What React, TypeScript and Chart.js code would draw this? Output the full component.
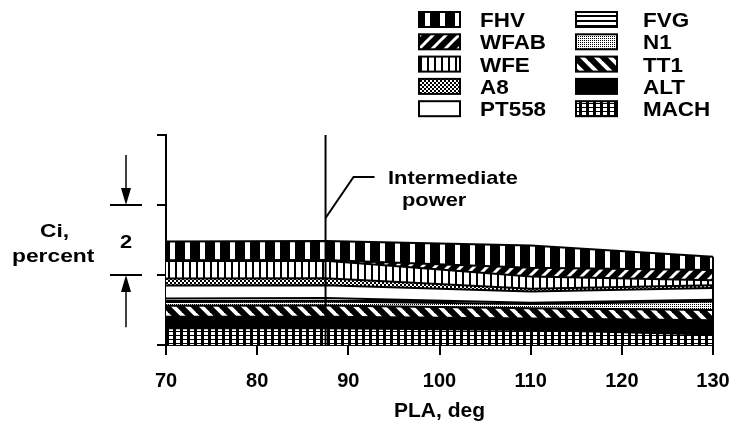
import React, { useEffect, useRef } from "react";
import { Chart, registerables } from "chart.js";

Chart.register(...registerables);

// ---------- data ----------
const PLA = [70, 87.5, 110, 130];
const MACH = [0.48, 0.48, 0.43, 0.3];
const ALT = [0.33, 0.33, 0.33, 0.41];
const TT1 = [0.31, 0.32, 0.29, 0.29];
const N1 = [0.11, 0.11, 0.12, 0.24];
const FVG = [0.1, 0.1, 0.04, 0.05];
const PT558 = [0.37, 0.37, 0.32, 0.34];
const A8 = [0.2, 0.2, 0.08, 0.08];
const WFE = [0.5, 0.5, 0.35, 0.14];
const WFAB = [0.02, 0.02, 0.25, 0.29];
const FHV = [0.54, 0.54, 0.63, 0.38];

const SERIES_NAMES = ["MACH", "ALT", "TT1", "N1", "FVG", "PT558", "A8", "WFE", "WFAB", "FHV"];
const SERIES_VALUES = [MACH, ALT, TT1, N1, FVG, PT558, A8, WFE, WFAB, FHV];
const LEGEND_LEFT = ["FHV", "WFAB", "WFE", "A8", "PT558"];
const LEGEND_RIGHT = ["FVG", "N1", "TT1", "ALT", "MACH"];

const X_MIN = 70;
const X_MAX = 130;
const X_STEP = 10;
const Y_MIN = 0;
const Y_MAX = 6;
const Y_STEP = 2;
const INTERMEDIATE_PLA = 87.5;
const SPAN_LABEL = "2";
const SPAN_LOW = 2;
const SPAN_HIGH = 4;

const FONT = '"Liberation Sans", Arial, Helvetica, sans-serif';

type Ctx = CanvasRenderingContext2D;

function makePattern(ctx: Ctx, w: number, h: number, draw: (g: Ctx) => void): CanvasPattern | string {
  const c = document.createElement("canvas");
  c.width = w;
  c.height = h;
  const g = c.getContext("2d") as Ctx;
  draw(g);
  return ctx.createPattern(c, "repeat") || "#000";
}

function diag(g: Ctx, p: number, lw: number, color: string, forward: boolean) {
  g.strokeStyle = color;
  g.lineWidth = lw;
  g.lineCap = "square";
  for (const c of [-p, 0, p]) {
    g.beginPath();
    if (forward) {
      g.moveTo(c - 2, p + 2);
      g.lineTo(c + p + 2, -2);
    } else {
      g.moveTo(c - 2, -2);
      g.lineTo(c + p + 2, p + 2);
    }
    g.stroke();
  }
}

function buildPatterns(ctx: Ctx): Record<string, CanvasPattern | string> {
  return {
    FHV: makePattern(ctx, 15, 4, (g) => {
      g.fillStyle = "#000";
      g.fillRect(0, 0, 15, 4);
      g.fillStyle = "#fff";
      g.fillRect(5, 0, 5, 4);
    }),
    WFAB: makePattern(ctx, 13, 13, (g) => {
      g.fillStyle = "#000";
      g.fillRect(0, 0, 13, 13);
      diag(g, 13, 3, "#fff", true);
    }),
    WFE: makePattern(ctx, 7, 4, (g) => {
      g.fillStyle = "#fff";
      g.fillRect(0, 0, 7, 4);
      g.fillStyle = "#000";
      g.fillRect(0, 0, 2, 4);
    }),
    A8: makePattern(ctx, 4, 4, (g) => {
      g.fillStyle = "#fff";
      g.fillRect(0, 0, 4, 4);
      g.fillStyle = "#000";
      g.fillRect(0, 0, 2, 2);
      g.fillRect(2, 2, 2, 2);
    }),
    PT558: "#ffffff",
    FVG: makePattern(ctx, 4, 5, (g) => {
      g.fillStyle = "#fff";
      g.fillRect(0, 0, 4, 5);
      g.fillStyle = "#000";
      g.fillRect(0, 0, 4, 2);
    }),
    N1: makePattern(ctx, 2, 2, (g) => {
      g.fillStyle = "#fff";
      g.fillRect(0, 0, 2, 2);
      g.fillStyle = "#000";
      g.fillRect(0, 0, 1, 1);
    }),
    TT1: makePattern(ctx, 14, 14, (g) => {
      g.fillStyle = "#fff";
      g.fillRect(0, 0, 14, 14);
      diag(g, 14, 6, "#000", false);
    }),
    ALT: "#000000",
    MACH: makePattern(ctx, 7, 4, (g) => {
      g.fillStyle = "#000";
      g.fillRect(0, 0, 7, 4);
      g.fillStyle = "#fff";
      g.fillRect(1, 0, 4, 3);
    }),
  };
}

function stretchText(ctx: Ctx, text: string, x: number, y: number, size: number, sx: number) {
  ctx.save();
  ctx.font = `bold ${size}px ${FONT}`;
  ctx.fillStyle = "#000";
  ctx.textAlign = "left";
  ctx.textBaseline = "alphabetic";
  ctx.translate(x, y);
  ctx.scale(sx, 1);
  ctx.fillText(text, 0, 0);
  ctx.restore();
}

function arrow(ctx: Ctx, x: number, from: number, to: number) {
  const dir = to > from ? 1 : -1;
  const head = 17;
  ctx.beginPath();
  ctx.moveTo(x, from);
  ctx.lineTo(x, to - dir * head);
  ctx.stroke();
  ctx.beginPath();
  ctx.moveTo(x, to);
  ctx.lineTo(x - 5, to - dir * head);
  ctx.lineTo(x + 5, to - dir * head);
  ctx.closePath();
  ctx.fill();
}

const annotationPlugin = {
  id: "annotations",
  afterDatasetsDraw(chart: any) {
    const { ctx, chartArea, scales } = chart;
    const xs = scales.x;
    const ys = scales.y;
    ctx.save();
    ctx.strokeStyle = "#000";
    ctx.lineWidth = 2;
    // right closing edge of the stack
    const last = PLA.length - 1;
    let total = 0;
    SERIES_VALUES.forEach((s) => (total += s[last]));
    const xr = xs.getPixelForValue(PLA[last]);
    ctx.beginPath();
    ctx.moveTo(xr, ys.getPixelForValue(0));
    ctx.lineTo(xr, ys.getPixelForValue(total));
    ctx.stroke();
    // intermediate power line
    const xi = xs.getPixelForValue(INTERMEDIATE_PLA);
    ctx.beginPath();
    ctx.moveTo(xi, chartArea.top);
    ctx.lineTo(xi, chartArea.bottom);
    ctx.stroke();
    // leader
    ctx.lineWidth = 2;
    ctx.beginPath();
    ctx.moveTo(xi, ys.getPixelForValue(3.63));
    ctx.lineTo(xi + 28, ys.getPixelForValue(4.8));
    ctx.lineTo(xi + 49, ys.getPixelForValue(4.8));
    ctx.stroke();
    ctx.restore();
  },
  afterDraw(chart: any) {
    const { ctx, scales, data } = chart;
    const ys = scales.y;
    ctx.save();
    // Intermediate power label
    stretchText(ctx, "Intermediate", 388, 184, 18.5, 1.18);
    stretchText(ctx, "power", 402, 206, 18.5, 1.18);
    // Ci, percent
    stretchText(ctx, "Ci,", 40, 237, 19, 1.2);
    stretchText(ctx, "percent", 12, 262, 19, 1.2);
    const yHi = ys.getPixelForValue(SPAN_HIGH);
    const yLo = ys.getPixelForValue(SPAN_LOW);
    stretchText(ctx, SPAN_LABEL, 120, (yHi + yLo) / 2 + 8, 19, 1.15);
    ctx.strokeStyle = "#000";
    ctx.fillStyle = "#000";
    ctx.lineWidth = 2;
    ctx.beginPath();
    ctx.moveTo(110, yHi);
    ctx.lineTo(142, yHi);
    ctx.moveTo(110, yLo);
    ctx.lineTo(142, yLo);
    ctx.stroke();
    ctx.lineWidth = 1.5;
    arrow(ctx, 126, ys.getPixelForValue(5.43), yHi);
    arrow(ctx, 126, ys.getPixelForValue(0.51), yLo);
    // legend
    const byName: Record<string, any> = {};
    data.datasets.forEach((d: any) => (byName[d.label] = d));
    const cols = [
      { names: LEGEND_LEFT, boxX: 419, textX: 480 },
      { names: LEGEND_RIGHT, boxX: 576, textX: 643 },
    ];
    cols.forEach((col) => {
      col.names.forEach((name, i) => {
        const top = 12 + i * 22.3;
        const ds = byName[name];
        ctx.fillStyle = ds.backgroundColor;
        ctx.fillRect(col.boxX, top, 41, 15);
        ctx.strokeStyle = "#000";
        ctx.lineWidth = 2;
        ctx.strokeRect(col.boxX, top, 41, 15);
        stretchText(ctx, name, col.textX, top + 15, 19.5, 1.15);
      });
    });
    ctx.restore();
  },
};

export default function App() {
  const ref = useRef<HTMLCanvasElement | null>(null);
  useEffect(() => {
    const canvas = ref.current;
    if (!canvas) return;
    const ctx = canvas.getContext("2d") as Ctx;
    const patterns = buildPatterns(ctx);
    const datasets = SERIES_NAMES.map((name, idx) => ({
      label: name,
      data: PLA.map((x, i) => ({ x, y: SERIES_VALUES[idx][i] })),
      backgroundColor: patterns[name],
      borderColor: "#000",
      borderWidth: 2,
      fill: idx === 0 ? "origin" : "-1",
      pointRadius: 0,
      tension: 0,
    }));
    const chart = new Chart(canvas, {
      type: "line",
      data: { datasets },
      options: {
        animation: false,
        responsive: false,
        events: [],
        layout: { padding: { left: 0, top: 135, right: 24, bottom: 0 } },
        plugins: { legend: { display: false }, tooltip: { enabled: false }, title: { display: false } },
        scales: {
          x: {
            type: "linear",
            min: X_MIN,
            max: X_MAX,
            afterFit: (s: any) => {
              s.height = 83;
              s.paddingLeft = 0;
              s.paddingRight = 0;
            },
            afterBuildTicks: (s: any) => {
              const t = [];
              for (let v = X_MIN; v <= X_MAX; v += X_STEP) t.push({ value: v });
              s.ticks = t;
            },
            ticks: {
              color: "#000",
              font: { family: FONT, size: 20, weight: "bold" },
              padding: 14,
              maxRotation: 0,
            },
            grid: { drawOnChartArea: false, drawTicks: true, tickLength: 10, color: "#000", lineWidth: 2 },
            border: { display: true, color: "#000", width: 2 },
            title: {
              display: true,
              text: "PLA, deg",
              color: "#000",
              font: { family: FONT, size: 21, weight: "bold" },
              padding: { top: 0, bottom: 4 },
            },
          },
          y: {
            type: "linear",
            stacked: true,
            min: Y_MIN,
            max: Y_MAX,
            afterFit: (s: any) => {
              s.width = 166;
              s.paddingTop = 0;
              s.paddingBottom = 0;
            },
            ticks: { display: false, stepSize: Y_STEP },
            grid: { drawOnChartArea: false, drawTicks: true, tickLength: 9, color: "#000", lineWidth: 2 },
            border: { display: true, color: "#000", width: 2 },
          },
        },
      },
      plugins: [annotationPlugin],
    } as any);
    return () => chart.destroy();
  }, []);
  return (
    <div style={{ position: "absolute", left: 0, top: 0, width: 737, height: 428, background: "#fff" }}>
      <canvas ref={ref} width={737} height={428} style={{ display: "block", width: 737, height: 428 }} />
    </div>
  );
}
